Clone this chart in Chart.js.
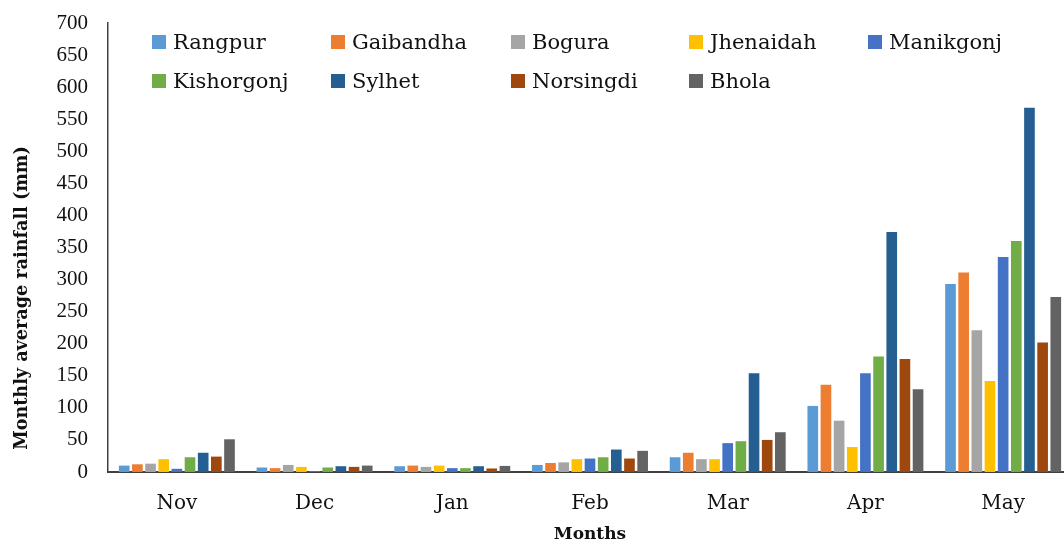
<!DOCTYPE html>
<html>
<head>
<meta charset="utf-8">
<script src="https://cdn.jsdelivr.net/npm/chart.js@4.4.1/dist/chart.umd.min.js"></script>
<style>
  html, body { margin: 0; padding: 0; background: #fff; overflow: hidden; width: 1064px; height: 545px; }
  #wrap { position: relative; width: 1074px; height: 545px; }
  #c { position: absolute; left: 0; top: 0; }
  .lg { position: absolute; display: flex; align-items: center; height: 26px; font-family: "DejaVu Serif", serif; font-size: 21px; color: #111; white-space: nowrap; }
  .sw { width: 14px; height: 14px; margin-right: 7px; flex: none; }
</style>
</head>
<body>
<div id="wrap">
  <canvas id="c" width="1074" height="545"></canvas>
  <div id="legend"></div>
</div>
<script>
const months = ["Nov", "Dec", "Jan", "Feb", "Mar", "Apr", "May"];
const seriesNames = ["Rangpur", "Gaibandha", "Bogura", "Jhenaidah", "Manikgonj", "Kishorgonj", "Sylhet", "Norsingdi", "Bhola"];
const rangpur    = [10, 7, 9, 11, 23, 103, 293];
const gaibandha  = [12, 6, 10, 14, 30, 136, 311];
const bogura     = [13, 11, 8, 15, 20, 80, 221];
const jhenaidah  = [20, 8, 10, 20, 20, 39, 142];
const manikgonj  = [5, 1.5, 6, 21, 45, 154, 335];
const kishorgonj = [23, 7, 6, 23, 48, 180, 360];
const sylhet     = [30, 9, 9, 35, 154, 374, 568];
const norsingdi  = [24, 8, 5.5, 21, 50, 176, 202];
const bhola      = [51, 10, 9.5, 33, 62, 129, 273];
const yTicks = [0, 50, 100, 150, 200, 250, 300, 350, 400, 450, 500, 550, 600, 650, 700];

const colors = ["#5B9BD5", "#ED7D31", "#A5A5A5", "#FFC000", "#4472C4", "#70AD47", "#255E91", "#9E480E", "#636363"];
const values = [rangpur, gaibandha, bogura, jhenaidah, manikgonj, kishorgonj, sylhet, norsingdi, bhola];

const datasets = seriesNames.map((n, i) => ({
  label: n,
  data: values[i],
  backgroundColor: colors[i],
  borderWidth: 0,
  barPercentage: 0.81,
  categoryPercentage: 0.86
}));

const yTitlePlugin = {
  id: 'yTitle',
  afterDraw(chart) {
    const ctx = chart.ctx;
    ctx.save();
    ctx.translate(22, 298);
    ctx.rotate(-Math.PI / 2);
    ctx.font = 'bold 17.6px "DejaVu Serif"';
    ctx.fillStyle = '#111';
    ctx.textAlign = 'center';
    ctx.textBaseline = 'middle';
    ctx.fillText('Monthly average rainfall (mm)', 0, 0);
    ctx.restore();
  }
};

new Chart(document.getElementById('c'), {
  type: 'bar',
  data: { labels: months, datasets },
  plugins: [yTitlePlugin],
  options: {
    responsive: false,
    animation: false,
    devicePixelRatio: 1,
    layout: { padding: { top: 23, left: 0, right: 2, bottom: 0 } },
    plugins: { legend: { display: false }, tooltip: { enabled: false } },
    scales: {
      y: {
        min: 0, max: 700,
        afterBuildTicks: (s) => { s.ticks = yTicks.map(v => ({ value: v })); },
        afterFit: (s) => { s.width = 108; s.paddingTop = 0; s.paddingBottom = 0; },
        grid: { display: false, drawTicks: false },
        border: { display: true, color: '#404040', width: 1.5 },
        ticks: { padding: 20, color: '#111', font: { family: 'Liberation Serif', size: 21 } }
      },
      x: {
        afterFit: (s) => { s.height = 73; s.paddingLeft = 0; s.paddingRight = 0; },
        grid: { display: false, drawTicks: false },
        border: { display: true, color: '#404040', width: 2 },
        ticks: { padding: 20, color: '#111', font: { family: 'DejaVu Serif', size: 20 } },
        title: { display: true, text: 'Months', color: '#111', padding: 0, font: { family: 'DejaVu Serif', size: 17, weight: 'bold' } }
      }
    }
  }
});

// HTML legend in fixed columns
const legend = document.getElementById('legend');
const colLeft = [152, 331, 511, 689, 868];
const rowCenter = [41.5, 81];
seriesNames.forEach((n, i) => {
  const row = Math.floor(i / 5), col = i % 5;
  const d = document.createElement('div');
  d.className = 'lg';
  d.style.left = colLeft[col] + 'px';
  d.style.top = (rowCenter[row] - 13) + 'px';
  const sw = document.createElement('span');
  sw.className = 'sw';
  sw.style.background = colors[i];
  const t = document.createElement('span');
  t.textContent = n;
  d.appendChild(sw); d.appendChild(t);
  legend.appendChild(d);
});
</script>
</body>
</html>
